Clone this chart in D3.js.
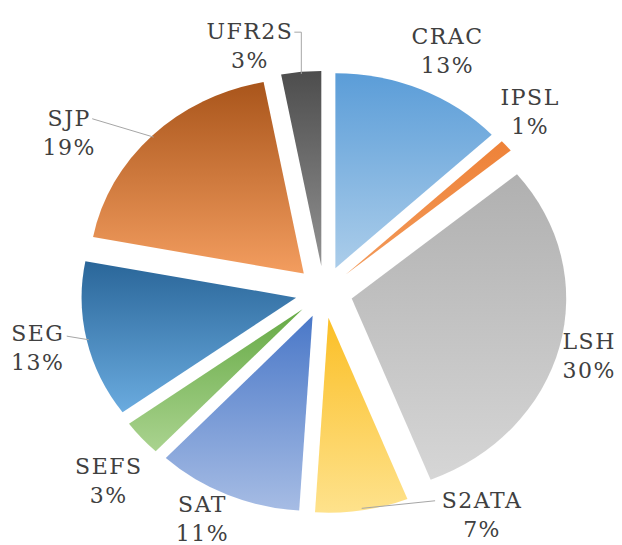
<!DOCTYPE html>
<html lang="en">
  <head>
    <meta charset="utf-8">
    <title>Exploded pie chart</title>
    <script src="https://cdnjs.cloudflare.com/ajax/libs/d3/7.8.0/d3.min.js"></script>
    <style>
      body { margin: 0; background: #fff; }
      .leader {
        fill: none;
        stroke: #a6a6a6;
        stroke-width: 1;
      }
    </style>
  </head>
  <body>
    <div id="chartContainer"></div>

    <script type="text/javascript">
      // Data (percent of total)
      var categories = ["CRAC", "IPSL", "LSH", "S2ATA", "SAT", "SEFS", "SEG", "SJP", "UFR2S"];
      var values = [13, 1, 30, 7, 11, 3, 13, 19, 3];

      // Gradient stops per slice (top colour, bottom colour)
      var topColors = ["#5b9dd8", "#ee8238", "#b0b0b0", "#fbbf26", "#4a78c8", "#66aa45", "#2a6699", "#a9551b", "#4d4d4d"];
      var bottomColors = ["#abcdea", "#f39a5a", "#d6d6d6", "#fee28c", "#a6bce4", "#aad38f", "#6aabdf", "#f39d5f", "#929292"];

      // Layout
      var width = 622, height = 545;
      var cx = 324, cy = 292;
      var radius = 195;
      var stretchX = 1.1;      // the original pie is slightly wider than tall
      var explode = 26;
      var labelRadius = 262;
      var lineGap = 29;
      var labelFont = "'DejaVu Serif', serif";

      // label nudges from the default label ring (pixels)
      var labelNudge = {
        "CRAC": [9, -3], "IPSL": [-10, -9], "LSH": [-14, -3], "S2ATA": [113, -38],
        "SAT": [-7, -15], "SEFS": [1, 14], "SEG": [-5, -3], "SJP": [-51, 24], "UFR2S": [-47, 13]
      };
      // leader line start, relative to the label's first line
      var leaderStart = { "UFR2S": "elbow", "SJP": [23, 0], "SEG": [29, 2], "S2ATA": [-47, 0] };

      var data = categories.map(function(c, i) { return { name: c, value: values[i], i: i }; });

      var svg = d3.select("#chartContainer")
                  .append("svg")
                  .attr("width", width)
                  .attr("height", height);

      var defs = svg.append("defs");
      data.forEach(function(d) {
        var g = defs.append("linearGradient")
                    .attr("id", "grad" + d.i)
                    .attr("x1", 0).attr("y1", 0)
                    .attr("x2", 0).attr("y2", 1);
        g.append("stop").attr("offset", "0%").attr("stop-color", topColors[d.i]);
        g.append("stop").attr("offset", "100%").attr("stop-color", bottomColors[d.i]);
      });

      var pie = d3.pie()
                  .sort(null)
                  .value(function(d) { return d.value; });

      var arc = d3.arc()
                  .innerRadius(0)
                  .outerRadius(radius);

      var arcs = pie(data);

      function mid(a) { return (a.startAngle + a.endAngle) / 2; }

      var pieG = svg.append("g")
                    .attr("transform", "translate(" + cx + "," + cy + ") scale(" + stretchX + ",1)");

      pieG.selectAll(".slice")
          .data(arcs)
          .enter().append("path")
          .attr("class", "slice")
          .attr("transform", function(a) {
            var m = mid(a);
            return "translate(" + (Math.sin(m) * explode) + "," + (-Math.cos(m) * explode) + ")";
          })
          .attr("d", arc)
          .attr("fill", function(a) { return "url(#grad" + a.data.i + ")"; });

      // Labels
      var labelG = svg.append("g");

      arcs.forEach(function(a) {
        var m = mid(a);
        var n = labelNudge[a.data.name];
        var x = cx + stretchX * Math.sin(m) * labelRadius + n[0];
        var y = cy - Math.cos(m) * labelRadius + n[1];

        var t = labelG.append("text")
                      .attr("text-anchor", "middle")
                      .attr("x", x)
                      .attr("y", y - 5)
                      .style("font-family", labelFont)
                      .style("font-size", "22px")
                      .style("letter-spacing", "1.5px")
                      .style("fill", "#404040");
        t.append("tspan").attr("x", x).text(a.data.name);
        t.append("tspan").attr("x", x).attr("dy", lineGap).text(a.data.value + "%");

        var s = leaderStart[a.data.name];
        if (!s) return;

        // end point on the exploded slice's outer edge
        var ex = cx + stretchX * Math.sin(m) * (explode + radius * 0.99);
        var ey = cy - Math.cos(m) * (explode + radius * 0.99);
        var ly = y - 12;
        var pts;
        if (s === "elbow") {
          var bb = t.node().getBBox();
          pts = [[bb.x + bb.width + 1, ly], [ex, ly], [ex, ey]];
        } else {
          pts = [[x + s[0], ly + s[1]], [ex, ey]];
        }
        labelG.append("path")
              .attr("class", "leader")
              .attr("d", d3.line()(pts));
      });
    </script>
  </body>
</html>
